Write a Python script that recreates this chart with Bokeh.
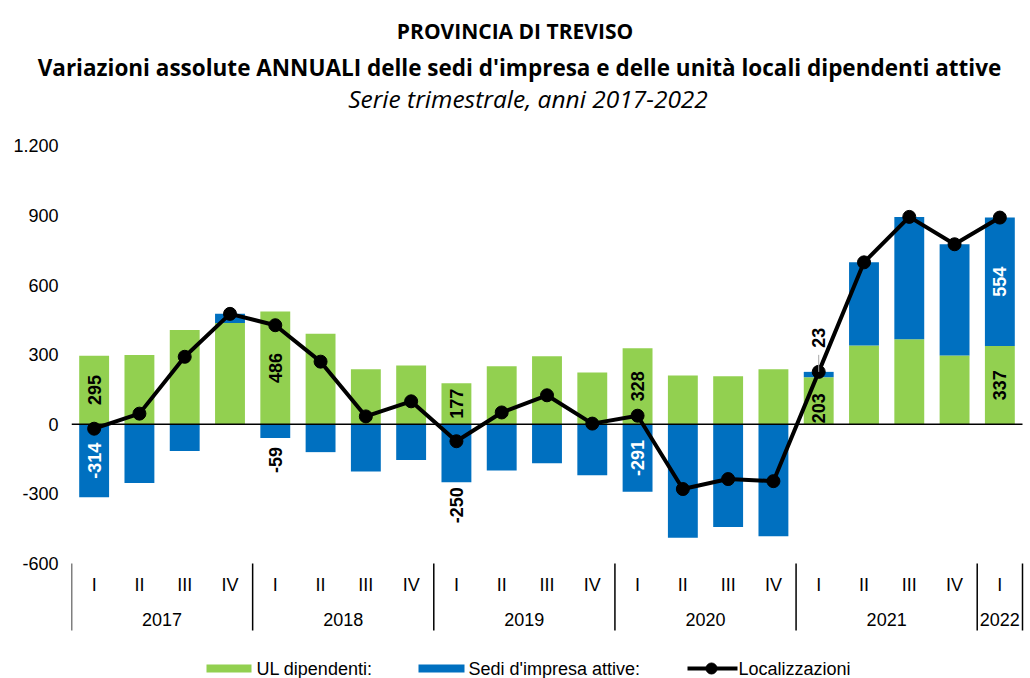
import numpy as np
from bokeh.plotting import figure
from bokeh.layouts import column
from bokeh.models import Range1d, FixedTicker
from bokeh.core.properties import value
from bokeh.embed import file_html
from bokeh.resources import INLINE

# ---------------- data ----------------
quarters = ["I", "II", "III", "IV"] * 5 + ["I"]
years = ["2017", "2018", "2019", "2020", "2021", "2022"]
year_sizes = [4, 4, 4, 4, 4, 1]
ul_dipendenti = [295, 299, 406, 437, 486, 390, 237, 253, 177, 250, 293, 223,
                 328, 210, 207, 237, 203, 340, 367, 296, 337]
sedi_attive = [-314, -253, -115, 39, -59, -120, -203, -154, -250, -199, -168, -220,
               -291, -489, -443, -482, 23, 358, 527, 480, 554]
localizzazioni = [-19, 46, 291, 476, 427, 270, 34, 99, -73, 51, 125, 3,
                  37, -279, -236, -245, 226, 698, 894, 776, 891]
y_ticks = [-600, -300, 0, 300, 600, 900, 1200]
y_tick_labels = ["-600", "-300", "0", "300", "600", "900", "1.200"]

title1 = "PROVINCIA DI TREVISO"
title2 = "Variazioni assolute ANNUALI delle sedi d'impresa e delle unità locali dipendenti attive"
subtitle = "Serie trimestrale, anni 2017-2022"
legend_names = ["UL dipendenti:", "Sedi d'impresa attive:", "Localizzazioni"]

# ---------------- layout ----------------
W, H = 1030, 678
TOP_H = 120
LEFT = 71
CW = 951 / 21.0
ZERO_FY = 423.8
K = 4.31

GREEN = "#92D050"
BLUE = "#0070C0"
FONT = "Liberation Sans"
TFONT = "Open Sans"


def X(fx):
    return -0.5 + (fx - LEFT) / CW


def Y(fy):
    return (ZERO_FY - fy) * K


# ---------------- title strip ----------------
t = figure(width=W, height=TOP_H, output_backend="svg", toolbar_location=None,
           x_range=Range1d(0, W), y_range=Range1d(TOP_H, 0),
           x_axis_location=None, y_axis_location=None,
           min_border_left=0, min_border_right=0, min_border_top=0, min_border_bottom=0)
t.grid.visible = False
t.outline_line_color = None
t.background_fill_color = "white"
t.border_fill_color = "white"
t.text(x=[514.5], y=[30], text=[title1], text_align="center", text_baseline="alphabetic",
       text_font=value(TFONT), text_font_size="21px", text_font_style="bold", text_color="black")
t.text(x=[519], y=[67], text=[title2], text_align="center", text_baseline="alphabetic",
       text_font=value(TFONT), text_font_size="22.5px", text_font_style="bold", text_color="black")
t.text(x=[527.5], y=[98], text=[subtitle], text_align="center", text_baseline="alphabetic",
       text_font=value(TFONT), text_font_size="24.5px", text_font_style="italic", text_color="black")

# ---------------- chart ----------------
p = figure(width=W, height=H - TOP_H, output_backend="svg", toolbar_location=None,
           x_range=Range1d(-0.5, X(W)),
           y_range=Range1d(Y(H), Y(TOP_H)),
           x_axis_location=None,
           min_border_left=LEFT, min_border_right=0, min_border_top=0, min_border_bottom=0)
p.grid.visible = False
p.outline_line_color = None
p.background_fill_color = "white"
p.border_fill_color = "white"

# do not align the frames of the two stacked figures
for fig in (t, p):
    try:
        fig.frame_align = False
    except Exception:
        pass

ax = p.yaxis[0]
ax.ticker = FixedTicker(ticks=y_ticks)
ax.major_label_overrides = {tk: lb for tk, lb in zip(y_ticks, y_tick_labels)}
ax.axis_line_color = None
ax.major_tick_line_color = None
ax.minor_tick_line_color = None
ax.major_tick_out = 0
ax.major_label_standoff = 13
ax.major_label_text_font = FONT
ax.major_label_text_font_size = "18px"
ax.major_label_text_color = "#000000"

# bars
n = len(quarters)
x = np.arange(n)
ul = np.array(ul_dipendenti)
se = np.array(sedi_attive)
BW = 0.66
p.vbar(x=x, bottom=0, top=ul, width=BW, fill_color=GREEN, line_color=None)
b_bottom = np.where(se < 0, se, ul)
b_top = np.where(se < 0, 0, ul + se)
p.vbar(x=x, bottom=b_bottom, top=b_top, width=BW, fill_color=BLUE, line_color=None)

# zero line
p.segment(x0=[-0.5], y0=[0], x1=[n - 0.5], y1=[0], line_color="black", line_width=1.5)

# line series
p.line(x, localizzazioni, line_color="black", line_width=4)
p.scatter(x, localizzazioni, size=13, fill_color="black", line_color="black")

# data labels
ang = np.pi / 2


def lab(xi, yv, txt, align, color, yoff=0):
    p.text(x=[xi], y=[yv], text=[txt], angle=ang, text_align=align, text_baseline="middle",
           text_font=value(FONT), text_font_size="18px", text_font_style="bold",
           text_color=color, y_offset=yoff)


for i in [0, 4, 8, 12, 20]:
    lab(i, ul[i] / 2.0, str(ul[i]), "center", "black")
lab(16, 0, str(ul[16]), "left", "black", -1)
for i in [0, 12]:
    lab(i, se[i] / 2.0, str(se[i]), "center", "white")
lab(20, ul[20] + se[20] / 2.0, str(se[20]), "center", "white")
lab(4, se[4], str(se[4]), "right", "black", 9)
lab(8, se[8], str(se[8]), "right", "black", 5)
top16 = ul[16] + se[16]
p.segment(x0=[16], y0=[top16], x1=[16], y1=[top16 + 17 * K], line_color="#A6A6A6", line_width=1)
lab(16, top16, str(se[16]), "left", "black", -24)

# category axis (quarters / years)
bounds = np.concatenate([[0], np.cumsum(year_sizes)]) - 0.5
p.segment(x0=bounds, y0=Y(563), x1=bounds, y1=Y(630), line_color="black", line_width=1.5)
p.text(x=x, y=Y(584), text=quarters, text_align="center", text_baseline="middle",
       text_font=value(FONT), text_font_size="18px", text_color="black")
ycent = bounds[:-1] + np.array(year_sizes) / 2.0
p.text(x=ycent, y=Y(619), text=years, text_align="center", text_baseline="middle",
       text_font=value(FONT), text_font_size="18px", text_color="black")

# legend
LY = 668
p.quad(left=[X(206)], right=[X(251)], bottom=[Y(LY + 4)], top=[Y(LY - 4)], fill_color=GREEN, line_color=None)
p.quad(left=[X(418)], right=[X(464)], bottom=[Y(LY + 4)], top=[Y(LY - 4)], fill_color=BLUE, line_color=None)
p.line([X(687), X(737)], [Y(LY), Y(LY)], line_color="black", line_width=4)
p.scatter([X(711)], [Y(LY)], size=11, fill_color="black", line_color="black")
p.text(x=[X(256), X(468), X(738)], y=[Y(LY)] * 3, text=legend_names, text_align="left",
       text_baseline="middle", text_font=value(FONT), text_font_size="18px", text_color="black")

layout = column(t, p, spacing=0)
open("out.html", "w").write(file_html(layout, INLINE))
